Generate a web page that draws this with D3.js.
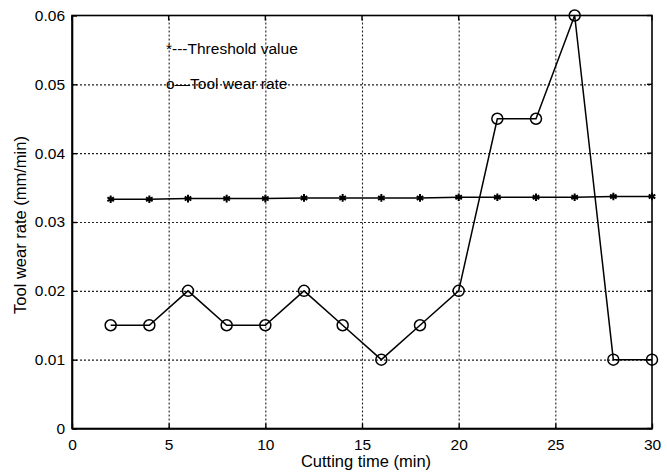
<!DOCTYPE html>
<html><head><meta charset="utf-8">
<script src="https://cdn.jsdelivr.net/npm/d3@7/dist/d3.min.js"></script>
<style>body{margin:0;background:#fff}text{font-family:"Liberation Sans",Arial,sans-serif}</style>
</head><body><svg id="c" width="667" height="472"></svg>
<script>
const cuttingTime = [2,4,6,8,10,12,14,16,18,20,22,24,26,28,30];
const wearRate = [0.015,0.015,0.02,0.015,0.015,0.02,0.015,0.01,0.015,0.02,0.045,0.045,0.06,0.01,0.01];
const threshold = [0.0333,0.0333,0.0334,0.0334,0.0334,0.0335,0.0335,0.0335,0.0335,0.0336,0.0336,0.0336,0.0336,0.0337,0.0337];
const xTicks = [0,5,10,15,20,25,30];
const yTicks = [0,0.01,0.02,0.03,0.04,0.05,0.06];

const svg = d3.select("#c");
const L=72,R=652,T=15.5,B=428.5;
const x = d3.scaleLinear().domain([0,30]).range([L,R]);
const y = d3.scaleLinear().domain([0,0.06]).range([B,T]);

// grid
const grid = svg.append("g");
grid.append("g").attr("transform",`translate(0,${B})`)
 .call(d3.axisBottom(x).tickValues(xTicks.slice(1,-1)).tickSize(-(B-T)).tickFormat(""))
 .call(a=>a.select(".domain").remove());
grid.append("g").attr("transform",`translate(${L},0)`)
 .call(d3.axisLeft(y).tickValues(yTicks.slice(1,-1)).tickSize(-(R-L)).tickFormat(""))
 .call(a=>a.select(".domain").remove());
grid.selectAll("line").attr("stroke","#222").attr("stroke-width",1.1).attr("stroke-dasharray","2,2");

// axes
const xa = svg.append("g").attr("transform",`translate(0,${B})`)
 .call(d3.axisBottom(x).tickValues(xTicks).tickSizeInner(-5).tickSizeOuter(0).tickPadding(10).tickFormat(d3.format("d")));
const ya = svg.append("g").attr("transform",`translate(${L},0)`)
 .call(d3.axisLeft(y).tickValues(yTicks).tickSizeInner(-5).tickSizeOuter(0).tickPadding(7).tickFormat(d=>d===0?"0":d3.format(".2f")(d)));
[xa,ya].forEach(a=>{a.selectAll("text").attr("font-size",15.5).attr("fill","#000");a.select(".domain").attr("stroke-width",1.6);a.selectAll(".tick line").attr("stroke-width",1.4);});
// top/right ticks + frame
svg.append("rect").attr("x",L).attr("y",T).attr("width",R-L).attr("height",B-T).attr("fill","none").attr("stroke","#000").attr("stroke-width",1.6);
svg.selectAll(".tt").data(xTicks).enter().append("line").attr("x1",d=>x(d)).attr("x2",d=>x(d)).attr("y1",T).attr("y2",T+5).attr("stroke","#000").attr("stroke-width",1.4);
svg.selectAll(".rt").data(yTicks).enter().append("line").attr("y1",d=>y(d)).attr("y2",d=>y(d)).attr("x1",R).attr("x2",R-5).attr("stroke","#000").attr("stroke-width",1.4);

// threshold line
const line = d3.line().x((d,i)=>x(cuttingTime[i])).y(d=>y(d));
svg.append("path").datum(threshold).attr("d",line).attr("fill","none").attr("stroke","#000").attr("stroke-width",1.5);
const star = d3.symbol().type(d3.symbolAsterisk).size(40);
svg.selectAll(".st").data(threshold).enter().append("path")
 .attr("transform",(d,i)=>`translate(${x(cuttingTime[i])},${y(d)})`).attr("d",star)
 .attr("fill","none").attr("stroke","#000").attr("stroke-width",2);

// wear line
svg.append("path").datum(wearRate).attr("d",line).attr("fill","none").attr("stroke","#000").attr("stroke-width",1.5);
svg.selectAll(".ci").data(wearRate).enter().append("circle")
 .attr("cx",(d,i)=>x(cuttingTime[i])).attr("cy",d=>y(d)).attr("r",5.5)
 .attr("fill","none").attr("stroke","#000").attr("stroke-width",1.5);

// legend text
svg.append("text").attr("x",166).attr("y",54).attr("font-size",15.5).text("*---Threshold value");
svg.append("text").attr("x",166).attr("y",89).attr("font-size",15.5).text("o\u2014Tool wear rate");

// labels
svg.append("text").attr("x",366).attr("y",467).attr("text-anchor","middle").attr("font-size",16.5).text("Cutting time (min)");
svg.append("text").attr("transform",`translate(26,${(T+B)/2+3}) rotate(-90)`).attr("text-anchor","middle").attr("font-size",16.5).text("Tool wear rate (mm/min)");
</script></body></html>
